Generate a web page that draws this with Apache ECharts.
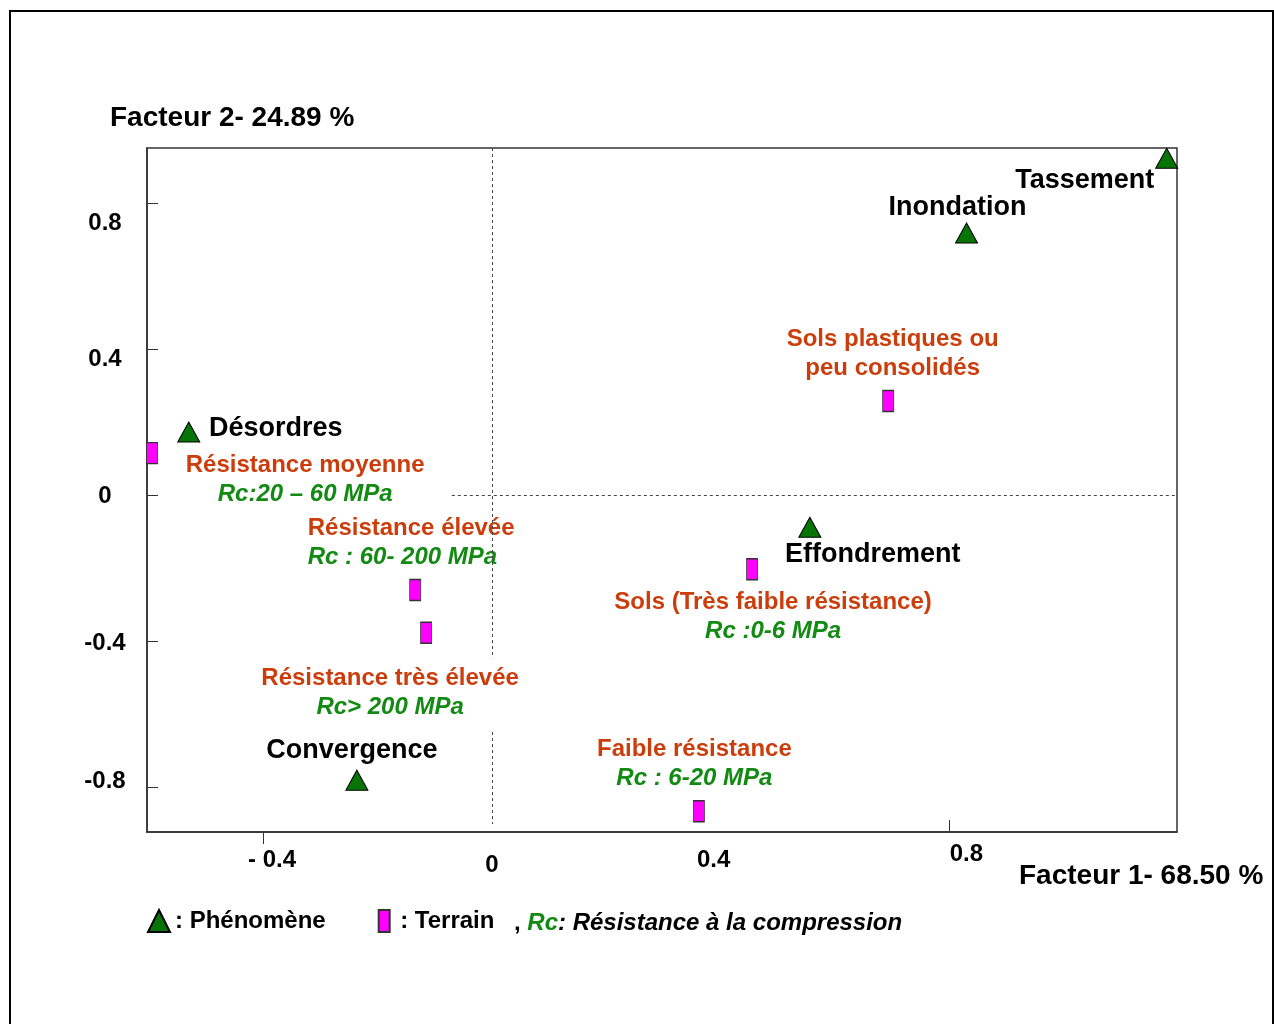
<!DOCTYPE html>
<html>
<head>
<meta charset="utf-8">
<script src="https://cdn.jsdelivr.net/npm/echarts@6/dist/echarts.min.js"></script>
<style>
  html, body { margin: 0; padding: 0; background: #fff; }
  #chart { width: 1274px; height: 1024px; }
</style>
</head>
<body>
<div id="chart"></div>
<script>
// phenomenes (triangles)
const phenNames = ["Tassement", "Inondation", "Désordres", "Effondrement", "Convergence"];
const phenX = [1.180, 0.830, -0.530, 0.556, -0.236];
const phenY = [0.923, 0.718, 0.173, -0.088, -0.781];

// terrains (rectangles)
const terrainNames = ["Résistance moyenne", "Sols plastiques ou\npeu consolidés", "Sols (Très faible résistance)",
  "Résistance élevée", "Résistance très élevée", "Faible résistance"];
const terrainRc = ["Rc:20 – 60 MPa", "", "Rc :0-6 MPa", "Rc : 60- 200 MPa", "Rc> 200 MPa", "Rc : 6-20 MPa"];
const terrainX = [-0.594, 0.693, 0.455, -0.134, -0.115, 0.362];
const terrainY = [0.115, 0.258, -0.203, -0.260, -0.377, -0.866];

const xTicks = [-0.4, 0, 0.4, 0.8];
const yTicks = [-0.8, -0.4, 0, 0.4, 0.8];

const FONT = "'Liberation Sans', Arial, Helvetica, sans-serif";
const RED = "#cc3d0c";
const GREEN = "#138a13";

// label placement relative to each mark (px)
const phenOffsets = [[-82, 22], [-9, -25], [87, -3], [63, 27], [-5, -30]];
const terrainOffsets = [[153, 26.5], [4.5, -47.5], [21, 47.5], [-107.5, -47], [-36, 60], [-4.5, -47]];
const terrainAlign = ["center", "center", "center", "left", "center", "center"];

let chart = echarts.init(document.getElementById("chart"));

let phenData = phenNames.map((n, i) => ({
  name: n,
  value: [phenX[i], phenY[i]],
  label: { offset: phenOffsets[i] }
}));

let terrainData = terrainNames.map((n, i) => {
  let txt = n.split("\n").map(s => "{r|" + s + "}").join("\n");
  if (terrainRc[i]) txt += "\n{g|" + terrainRc[i] + "}";
  return {
    name: n,
    value: [terrainX[i], terrainY[i]],
    label: { formatter: txt, offset: terrainOffsets[i], align: terrainAlign[i] }
  };
});

// tick label nudges, the original labels are hand placed
const xRich = {
  xm4: { padding: [6, 0, 0, 18] },
  x0: { padding: [11, 0, 0, 0] },
  x4: { padding: [6, 14, 0, 0] },
  x8: { padding: [0, 0, 0, 34] }
};
const xKey = { "-0.4": "xm4", "0": "x0", "0.4": "x4", "0.8": "x8" };
const yRich = {
  y8: { padding: [40, 0, 0, 0] },
  y4: { padding: [20, 0, 0, 0] },
  y0: { padding: [2, 0, 0, 0] },
  ym4: { padding: [4, 0, 0, 0] },
  ym8: { padding: [0, 0, 12, 0] }
};
const yKey = { "0.8": "y8", "0.4": "y4", "0": "y0", "-0.4": "ym4", "-0.8": "ym8" };

const xMin = -0.603, xMax = 1.198, yMin = -0.923, yMax = 0.951;

chart.setOption({
  backgroundColor: "#fff",
  animation: false,
  textStyle: { fontFamily: FONT },
  title: [
    { text: "Facteur 2- 24.89 %", left: 110, top: 104, padding: 0,
      textStyle: { fontSize: 28, fontWeight: "bold", color: "#000", fontFamily: FONT } },
    { text: "Facteur 1- 68.50 %", left: 1019, top: 862, padding: 0,
      textStyle: { fontSize: 28, fontWeight: "bold", color: "#000", fontFamily: FONT } }
  ],
  grid: {
    left: 147, right: 97, top: 148, bottom: 192,
    show: true, borderColor: "#333", borderWidth: 1.5,
    outerBoundsMode: "none"
  },
  legend: {
    left: 147, top: 909, padding: 0,
    itemWidth: 22, itemHeight: 22, itemGap: 52,
    selectedMode: false,
    formatter: n => ": " + n,
    textStyle: { fontSize: 24, fontWeight: "bold", color: "#000", fontFamily: FONT, padding: [4, 0, 0, 0] },
    data: [
      { name: "Phénomène", icon: "triangle" },
      { name: "Terrain", icon: "path://M0,0h10v20h-10z" }
    ]
  },
  xAxis: [
    {
      type: "value", min: xMin, max: xMax, position: "bottom",
      axisLine: { show: true, onZero: false, lineStyle: { color: "#333", width: 1.5 } },
      splitLine: { show: false },
      axisTick: { show: true, customValues: [-0.4], inside: false, length: 12, lineStyle: { color: "#333" } },
      axisLabel: {
        customValues: xTicks, margin: 10,
        fontSize: 24, fontWeight: "bold", color: "#000", fontFamily: FONT,
        formatter: v => {
          let k = xKey[String(v)];
          let t = v === -0.4 ? "- 0.4" : String(v);
          return "{" + k + "|" + t + "}";
        },
        rich: xRich
      }
    },
    {
      // only carries the inner tick at 0.8
      type: "value", min: xMin, max: xMax, position: "top", offset: -684,
      axisLine: { show: false, onZero: false },
      splitLine: { show: false },
      axisLabel: { show: false },
      axisTick: { show: true, customValues: [0.8], inside: false, length: 12, lineStyle: { color: "#333" } }
    }
  ],
  yAxis: {
    type: "value", min: yMin, max: yMax,
    axisLine: { show: true, onZero: false, lineStyle: { color: "#333", width: 1.5 } },
    splitLine: { show: false },
    axisTick: { show: true, customValues: yTicks, inside: true, length: 11, lineStyle: { color: "#333" } },
    axisLabel: {
      customValues: yTicks, margin: 42, align: "center",
      fontSize: 24, fontWeight: "bold", color: "#000", fontFamily: FONT,
      formatter: v => "{" + yKey[String(v)] + "|" + v + "}",
      rich: yRich
    }
  },
  graphic: [
    {
      type: "rect", silent: true, z: 100,
      shape: { x: 10, y: 11, width: 1263, height: 1040 },
      style: { fill: "none", stroke: "#000", lineWidth: 2 }
    },
    {
      type: "text", left: 514, top: 911,
      style: {
        text: "{k|, }{g|Rc}{i|: Résistance à la compression}",
        rich: {
          k: { fontSize: 24, fontWeight: "bold", fill: "#000", fontFamily: FONT },
          g: { fontSize: 24, fontWeight: "bold", fontStyle: "italic", fill: GREEN, fontFamily: FONT },
          i: { fontSize: 24, fontWeight: "bold", fontStyle: "italic", fill: "#000", fontFamily: FONT }
        }
      }
    }
  ],
  series: [
    {
      name: "Phénomène",
      type: "scatter",
      symbol: "triangle",
      symbolSize: [22, 20],
      itemStyle: { color: "#067406", borderColor: "#000", borderWidth: 1, opacity: 1 },
      label: {
        show: true, position: "inside", formatter: "{b}",
        fontSize: 27, fontWeight: "bold", color: "#000", opacity: 1, fontFamily: FONT
      },
      data: phenData
    },
    {
      name: "Terrain",
      type: "scatter",
      symbol: "rect",
      symbolSize: [11, 21],
      itemStyle: { color: "#ff00ff", borderColor: "#333", borderWidth: 1, opacity: 1 },
      label: {
        show: true, position: "inside", opacity: 1,
        fontFamily: FONT,
        rich: {
          r: { color: RED, fontSize: 24, fontWeight: "bold", lineHeight: 29, fontFamily: FONT },
          g: { color: GREEN, fontSize: 24, fontWeight: "bold", fontStyle: "italic", lineHeight: 29, fontFamily: FONT }
        }
      },
      markLine: {
        silent: true,
        symbol: "none",
        label: { show: false },
        lineStyle: { color: "#444", type: [3, 3], width: 1, opacity: 1 },
        data: [
          [{ coord: [-0.07, 0] }, { coord: [xMax, 0] }],
          [{ coord: [0, yMax] }, { coord: [0, -0.447] }],
          [{ coord: [0, -0.649] }, { coord: [0, -0.901] }]
        ]
      },
      data: terrainData
    }
  ]
});

window.addEventListener("resize", () => {
  chart.resize();
});
</script>
</body>
</html>
